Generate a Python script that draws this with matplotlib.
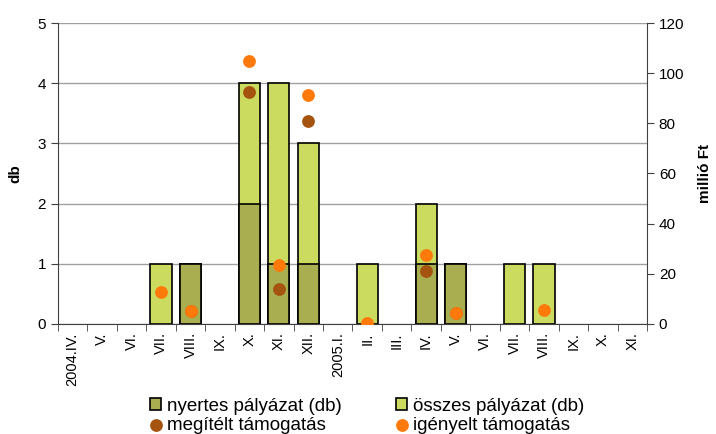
import numpy as np
import matplotlib.pyplot as plt

plt.rcParams['font.family'] = ['Liberation Sans', 'DejaVu Sans']

# havi adatok
honapok = ['2004.IV.', 'V.', 'VI.', 'VII.', 'VIII.', 'IX.', 'X.', 'XI.', 'XII.',
           '2005.I.', 'II.', 'III.', 'IV.', 'V.', 'VI.', 'VII.', 'VIII.', 'IX.', 'X.', 'XI.']
osszes = [0, 0, 0, 1, 1, 0, 4, 4, 3, 0, 1, 0, 2, 1, 0, 1, 1, 0, 0, 0]
nyertes = [0, 0, 0, 0, 1, 0, 2, 1, 1, 0, 0, 0, 1, 1, 0, 0, 0, 0, 0, 0]
# millió Ft
megitelt = [np.nan, np.nan, np.nan, np.nan, 5.0, np.nan, 92.3, 13.9, 81.0, np.nan,
            np.nan, np.nan, 21.0, 4.4, np.nan, np.nan, np.nan, np.nan, np.nan, np.nan]
igenyelt = [np.nan, np.nan, np.nan, 12.6, 5.0, np.nan, 104.9, 23.5, 91.1, np.nan,
            0.4, np.nan, 27.7, 4.4, np.nan, np.nan, 5.7, np.nan, np.nan, np.nan]

x = np.arange(len(honapok))
osszes = np.array(osszes)
nyertes = np.array(nyertes)
c_light = '#cadb5f'
c_dark = '#a9af50'
c_brown = '#a5540f'
c_orange = '#ff7a0a'

fig = plt.figure(figsize=(7.16, 4.34), dpi=100)
ax = fig.add_axes([0.081, 0.2535, 0.8226, 0.6935])
ax2 = ax.twinx()

w = 0.72
m1 = osszes > 0
m2 = nyertes > 0
b1 = ax.bar(x[m1], osszes[m1], w, color=c_light, edgecolor='black', linewidth=1.2, zorder=2,
            label='összes pályázat (db)')
b2 = ax.bar(x[m2], nyertes[m2], w, color=c_dark, edgecolor='black', linewidth=1.2, zorder=3,
            label='nyertes pályázat (db)')

s1 = ax2.scatter(x, megitelt, s=85, color=c_brown, zorder=4, linewidths=0, label='megítélt támogatás')
s2 = ax2.scatter(x, igenyelt, s=85, color=c_orange, zorder=5, linewidths=0, label='igényelt támogatás')

ax.set_xlim(-0.5, len(honapok) - 0.5)
ax.set_ylim(0, 5)
ax2.set_ylim(0, 120)
ax.set_yticks(range(0, 6))
ax2.set_yticks(range(0, 121, 20))
ax.yaxis.grid(True, color='#a0a0a0', linewidth=1)
ax.set_axisbelow(True)

ax.set_xticks(x)
ax.set_xticklabels(honapok, rotation=90, fontsize=10.5)
ax.set_xticks(np.arange(-0.5, len(honapok), 1), minor=True)
ax.tick_params(axis='x', which='major', length=0, pad=6)
ax.tick_params(axis='x', which='minor', length=5, color='#404040')
ax.tick_params(axis='y', labelsize=11, length=5, color='#404040')
ax2.tick_params(axis='y', labelsize=11, length=5, color='#404040')

for a in (ax, ax2):
    a.spines['top'].set_visible(False)
    for s in ('left', 'right', 'bottom'):
        a.spines[s].set_color('#404040')
ax.spines['right'].set_visible(False)
ax2.spines['left'].set_visible(False)
ax2.spines['bottom'].set_visible(False)

fig.text(0.021, 0.60, 'db', rotation=90, fontsize=11, fontweight='bold',
         ha='center', va='center')
fig.text(0.985, 0.60, 'millió Ft', rotation=90, fontsize=11, fontweight='bold',
         ha='center', va='center')

# sorfolytonos sorrend a 2 oszlopos jelmagyarázathoz
handles = [b2, s1, b1, s2]
labels = [h.get_label() for h in handles]
fig.legend(handles, labels, ncol=2, loc='lower center', bbox_to_anchor=(0.513, -0.03),
           frameon=False, fontsize=13.5, handlelength=0.6, handleheight=0.6,
           handletextpad=0.3, columnspacing=2.9, labelspacing=0.1, borderpad=0.2)

fig.savefig('out.png', dpi=100)
